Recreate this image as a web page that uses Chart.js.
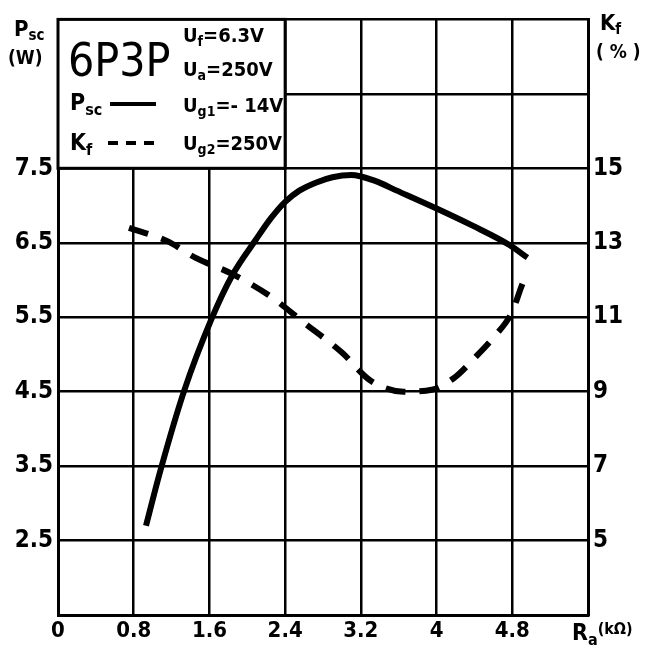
<!DOCTYPE html>
<html>
<head>
<meta charset="utf-8">
<script src="https://cdn.jsdelivr.net/npm/chart.js@4.4.0/dist/chart.umd.min.js"></script>
<style>
  body { margin: 0; background: #fff; }
</style>
</head>
<body>
<canvas id="myChart" width="661" height="648"></canvas>
<script>
// Ra (kOhm) ticks
var xTickVals = [0, 0.8, 1.6, 2.4, 3.2, 4, 4.8, 5.6];
var xTickLabels = ['0', '0.8', '1.6', '2.4', '3.2', '4', '4.8', ''];
// Psc (W) left axis
var pscTickVals = [1.5, 2.5, 3.5, 4.5, 5.5, 6.5, 7.5, 8.5, 9.5];
var pscTickLabels = ['', '2.5', '3.5', '4.5', '5.5', '6.5', '7.5', '', ''];
// Kf (%) right axis
var kfTickVals = [3, 5, 7, 9, 11, 13, 15, 17, 19];
var kfTickLabels = ['', '5', '7', '9', '11', '13', '15', '', ''];

// Psc curve
var pscX = [0.93, 1.08, 1.33, 1.62, 1.84, 2.09, 2.25, 2.4, 2.55, 2.73, 2.9, 3.1, 3.35, 3.58, 4.0, 4.38, 4.77, 4.96];
var pscY = [2.7, 3.43, 4.5, 5.47, 6.06, 6.54, 6.83, 7.05, 7.2, 7.31, 7.38, 7.41, 7.33, 7.2, 6.96, 6.73, 6.47, 6.3];
// Kf curve
var kfX = [0.75, 1.15, 1.45, 1.85, 2.25, 2.6, 3.0, 3.3, 3.65, 3.95, 4.2, 4.4, 4.6, 4.8, 4.9, 4.96];
var kfY = [13.4, 13.05, 12.6, 12.15, 11.55, 10.85, 10.05, 9.3, 9.0, 9.05, 9.4, 9.9, 10.45, 11.15, 11.85, 12.2];

var FONT = '"DejaVu Sans Condensed", "Liberation Sans Narrow", "Liberation Sans", sans-serif';

function pts(xs, ys) {
  return xs.map(function (x, i) { return {x: x, y: ys[i]}; });
}

// text with a subscript part
function subText(ctx, main, sub, x, y, size) {
  ctx.font = 'bold ' + size + 'px ' + FONT;
  ctx.fillText(main, x, y);
  var w = ctx.measureText(main).width;
  ctx.font = 'bold ' + Math.round(size * 0.7) + 'px ' + FONT;
  ctx.fillText(sub, x + w, y + size * 0.2);
  return x + w + ctx.measureText(sub).width;
}

var boxPlugin = {
  id: 'boxPlugin',
  beforeDatasetsDraw: function (chart) {
    var ctx = chart.ctx;
    var xs = chart.scales.x, ys = chart.scales.y;
    var l = xs.getPixelForValue(0), r = xs.getPixelForValue(2.4);
    var t = ys.getPixelForValue(9.5), b = ys.getPixelForValue(7.5);
    var e;
    ctx.save();
    ctx.fillStyle = '#fff';
    ctx.fillRect(l, t, r - l, b - t);
    ctx.strokeStyle = '#000';
    ctx.lineWidth = 3;
    ctx.strokeRect(l, t, r - l, b - t);
    ctx.fillStyle = '#000';
    ctx.textBaseline = 'alphabetic';
    ctx.textAlign = 'left';
    ctx.font = '46px ' + FONT;
    ctx.fillText('6P3P', 68, 76);
    // legend lines
    subText(ctx, 'P', 'sc', 70, 110, 23);
    ctx.lineWidth = 4;
    ctx.beginPath(); ctx.moveTo(110, 104); ctx.lineTo(156, 104); ctx.stroke();
    subText(ctx, 'K', 'f', 70, 150, 23);
    ctx.setLineDash([10, 8]);
    ctx.beginPath(); ctx.moveTo(108, 143); ctx.lineTo(162, 143); ctx.stroke();
    ctx.setLineDash([]);
    // conditions
    e = subText(ctx, 'U', 'f', 183, 42, 20); ctx.font = 'bold 20px ' + FONT; ctx.fillText('=6.3V', e, 42);
    e = subText(ctx, 'U', 'a', 183, 76, 20); ctx.font = 'bold 20px ' + FONT; ctx.fillText('=250V', e, 76);
    e = subText(ctx, 'U', 'g1', 183, 112, 20); ctx.font = 'bold 20px ' + FONT; ctx.fillText('=- 14V', e, 112);
    e = subText(ctx, 'U', 'g2', 183, 150, 20); ctx.font = 'bold 20px ' + FONT; ctx.fillText('=250V', e, 150);
    ctx.restore();
  },
  afterDraw: function (chart) {
    var ctx = chart.ctx;
    var e;
    ctx.save();
    ctx.fillStyle = '#000';
    ctx.textAlign = 'left';
    subText(ctx, 'P', 'sc', 14, 36, 22);
    ctx.font = 'bold 19px ' + FONT;
    ctx.fillText('(W)', 8, 64);
    subText(ctx, 'K', 'f', 600, 30, 22);
    ctx.font = 'bold 19px ' + FONT;
    ctx.fillText('( % )', 596, 58);
    e = subText(ctx, 'R', 'a', 572, 640, 23);
    ctx.font = 'bold 16px ' + FONT;
    ctx.fillText('(kΩ)', e, 634);
    ctx.restore();
  }
};

var ctx = document.getElementById('myChart').getContext('2d');
var myChart = new Chart(ctx, {
  type: 'line',
  data: {
    datasets: [{
      label: 'Psc',
      data: pts(pscX, pscY),
      yAxisID: 'y',
      borderColor: '#000',
      borderWidth: 6,
      pointRadius: 0,
      cubicInterpolationMode: 'monotone',
      fill: false
    }, {
      label: 'Kf',
      data: pts(kfX, kfY),
      yAxisID: 'y2',
      borderColor: '#000',
      borderWidth: 6,
      borderDash: [20, 14],
      pointRadius: 0,
      cubicInterpolationMode: 'monotone',
      fill: false
    }]
  },
  options: {
    responsive: false,
    animation: false,
    layout: { padding: { top: 13 } },
    plugins: {
      legend: { display: false },
      tooltip: { enabled: false }
    },
    scales: {
      x: {
        type: 'linear',
        min: 0, max: 5.6,
        afterBuildTicks: function (s) { s.ticks = xTickVals.map(function (v) { return {value: v}; }); },
        afterFit: function (s) { s.height = 33; },
        ticks: {
          color: '#000',
          font: { family: FONT, size: 22, weight: 'bold' },
          padding: 3,
          maxRotation: 0,
          autoSkip: false,
          callback: function (v, i) { return xTickLabels[i]; }
        },
        grid: { color: '#000', lineWidth: 2.5, drawTicks: false },
        border: { color: '#000', width: 3 }
      },
      y: {
        position: 'left',
        min: 1.5, max: 9.5,
        afterBuildTicks: function (s) { s.ticks = pscTickVals.map(function (v) { return {value: v}; }); },
        afterFit: function (s) { s.width = 58; },
        ticks: {
          color: '#000',
          font: { family: FONT, size: 24, weight: 'bold' },
          padding: 5,
          autoSkip: false,
          callback: function (v, i) { return pscTickLabels[i]; }
        },
        grid: { color: '#000', lineWidth: 2.5, drawTicks: false },
        border: { color: '#000', width: 3 }
      },
      y2: {
        position: 'right',
        min: 3, max: 19,
        afterBuildTicks: function (s) { s.ticks = kfTickVals.map(function (v) { return {value: v}; }); },
        afterFit: function (s) { s.width = 73; },
        ticks: {
          color: '#000',
          font: { family: FONT, size: 24, weight: 'bold' },
          padding: 5,
          autoSkip: false,
          callback: function (v, i) { return kfTickLabels[i]; }
        },
        grid: { display: false, drawTicks: false },
        border: { color: '#000', width: 3 }
      }
    }
  },
  plugins: [boxPlugin]
});
</script>
</body>
</html>
